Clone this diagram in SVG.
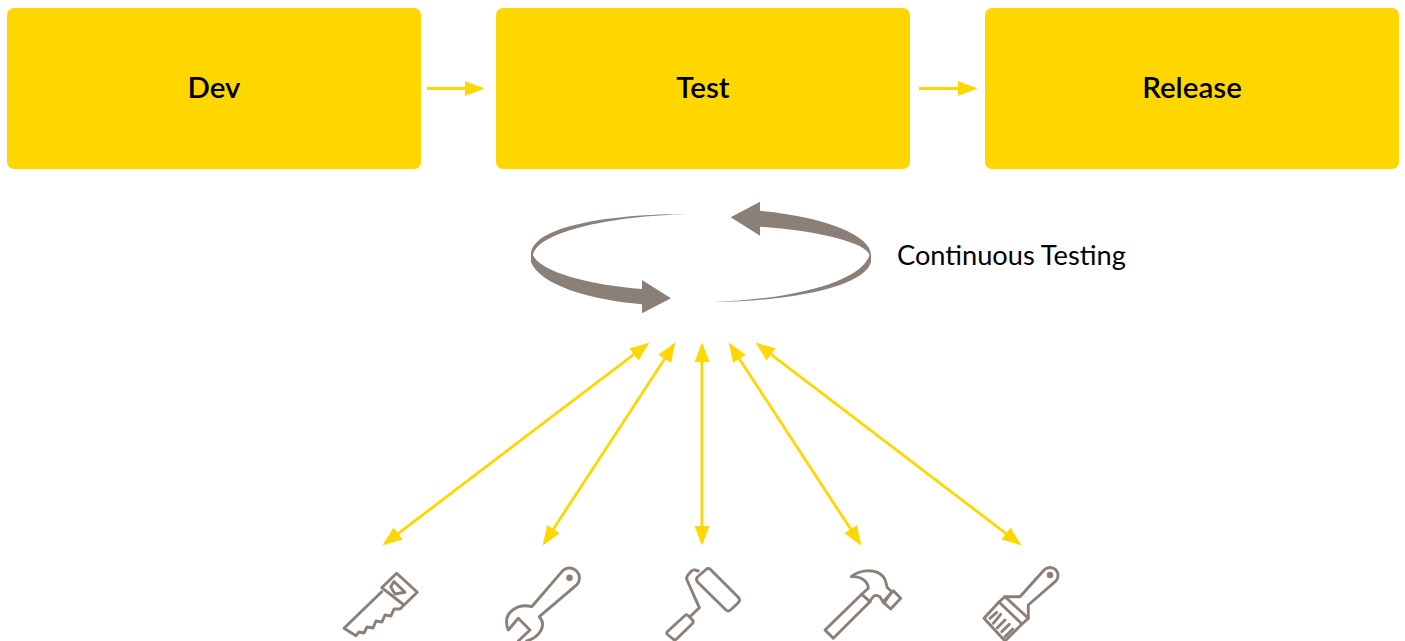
<svg xmlns="http://www.w3.org/2000/svg" width="1405" height="641" viewBox="0 0 1405 641">
<style>
.box{fill:#FFD700}
.lbl{font-family:Lato,"Liberation Sans",sans-serif;font-size:29.500px;font-weight:600;fill:#000;text-anchor:middle}
.cap{font-family:Lato,"Liberation Sans",sans-serif;font-size:27.200px;fill:#000}
.conn{stroke:#FFD700;stroke-width:2.800;fill:none}
.icon{fill:none;stroke:#8B8078;stroke-width:2.900;stroke-linejoin:round;stroke-linecap:round}
.rib{fill:#8B8078}
</style>
<defs>
<marker id="ah" markerUnits="userSpaceOnUse" markerWidth="21" markerHeight="16" refX="17" refY="7.500" orient="auto-start-reverse"><path d="M0 0L19.500 7.500L0 15Z" fill="#FFD700"/></marker>
</defs>
<rect width="1405" height="641" fill="#fff"/>
<g id="connectors">
<path class="conn" marker-end="url(#ah)" d="M427 88.500H482"/>
<path class="conn" marker-end="url(#ah)" d="M919 88.500H975"/>
<path class="conn" marker-start="url(#ah)" marker-end="url(#ah)" d="M384.600 543.800L647.400 344.200"/>
<path class="conn" marker-start="url(#ah)" marker-end="url(#ah)" d="M544.100 543.300L673.900 344.700"/>
<path class="conn" marker-start="url(#ah)" marker-end="url(#ah)" d="M702 543V345"/>
<path class="conn" marker-start="url(#ah)" marker-end="url(#ah)" d="M859.900 543.300L730.100 344.700"/>
<path class="conn" marker-start="url(#ah)" marker-end="url(#ah)" d="M1019.400 543.800L757.600 344.200"/>
</g>
<g id="dev"><rect class="box" x="7" y="8" width="414" height="161" rx="7"/><text class="lbl" x="214" y="98">Dev</text></g>
<g id="test"><rect class="box" x="496" y="8" width="414" height="161" rx="7"/><text class="lbl" x="703" y="98">Test</text></g>
<g id="release"><rect class="box" x="985" y="8" width="414" height="161" rx="7"/><text class="lbl" x="1192" y="98">Release</text></g>
<g id="cycle">
<path class="rib" d="M688 214C610 214 531 226 531 255V262C540 285 590 300 642 304.300V313.300L671 298.300L642 280V289C590 285 540 272 533 255C537 232 610 216 688 214Z"/>
<path class="rib" d="M730.700 217.300L760 201.700V210.700C825 217 871 235 871 255V262C865 285 800 301 712.700 302C800 299 862 280 869.500 255C866 243 820 231 760 226.700V235.700Z"/>
<text class="cap" x="897" y="265">Continuous Testing</text>
</g>
<g id="saw" class="icon">
<path d="M396.700 573.300L417.300 592.300L404 605L381.700 587.700Z"/>
<path d="M394 581.500L405 592.300L395 594L390.700 586.700Z"/>
<path d="M381.700 591.700L344 628.300L356 635.700L359 632L364 633L367 627L373 628L376 621L382 622L385 615L391 616L394 609L400 609L404 605"/>
</g>
<g id="wrench" class="icon">
<path d="M531.700 606.700L563 570.400A10 10 0 0 1 577 584.600L539.300 616.700C547 625 540 637 526.700 641M531.700 606.700C518 603 505 612 506.700 624Q507 628 508.300 630L518.300 618.300L530 630L518.300 641"/>
<circle cx="569.500" cy="577.700" r="1.800" fill="#8B8078"/>
</g>
<g id="roller" class="icon">
<path d="M706 569.500Q708.300 567.500 710.500 569.500L738.500 597.500Q740.500 600 738.500 602.500L730.500 610Q728.300 612 726 610L697.500 582Q695.500 579 697.500 577Z"/>
<path d="M698.300 571L695 570Q693 569.500 691.500 571L687.500 575.500Q686 577.500 687 580L699.300 607.700L690 616.700"/>
<path d="M685 615.500Q686.500 614 688 615.500L692.500 620Q694 621.700 692.500 623.500L676.500 639Q675 640.500 673 639L667.500 634.500Q666 633 667.500 631.500Z"/>
</g>
<g id="hammer" class="icon">
<path d="M825 630L861.700 594.300L870 601.700L833.300 638.300Z"/>
<path d="M861.700 594.300L868.300 588.300C868 582 862 576 851.300 576.700C858 571 874 567 883.300 576.700C887 581 886 586 887.300 587.500L891.700 591.700L884 603.300L880 597C875 593 872 597 870 601.700"/>
<path d="M893.300 590.700L900.700 598.300L890.700 609L883 602Z"/>
</g>
<g id="brush" class="icon">
<path d="M1005 596.700H1020L1044.300 569.800A8 8 0 0 1 1055.700 581.200L1028.300 605V618.300"/>
<path d="M1005 596.700L1028.300 618.300L1022 624L999 602Z"/>
<path d="M999 602L984 618.300L1005 641L1022 624"/>
<path d="M990 618.300L996.700 612.300M993.300 623.300L1000.700 614.300M997.300 627.700L1005 620M1001.700 631.700L1009.300 624.300M1005 636.700L1012.700 629"/>
<circle cx="1050" cy="575" r="1.800" fill="#8B8078"/>
</g>
</svg>
